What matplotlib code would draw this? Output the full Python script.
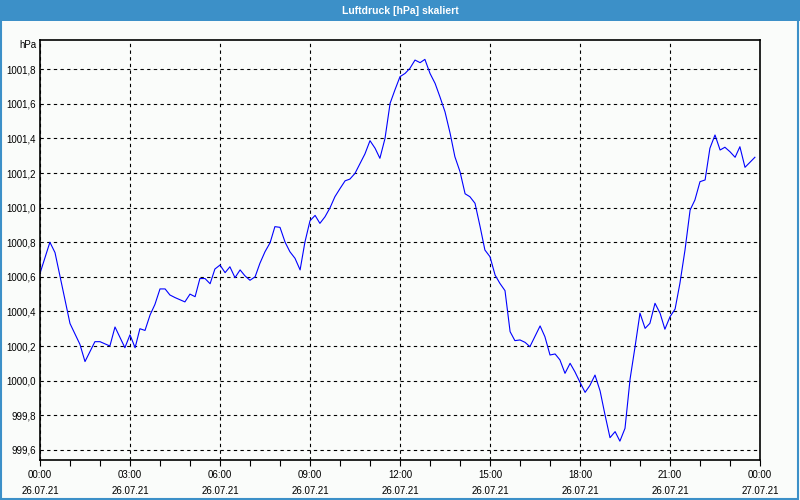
import matplotlib
matplotlib.use("Agg")
import matplotlib.pyplot as plt
from matplotlib.patches import Rectangle
from matplotlib.ticker import MultipleLocator, FuncFormatter

# Luftdruck-Verlauf, Stunden seit 26.07.21 00:00
stunden = [0.0, 0.33, 0.5, 0.67, 1.0, 1.33, 1.5, 1.83, 2.0, 2.33, 2.5, 2.83, 3.0,
           3.17, 3.33, 3.5, 3.67, 3.83, 4.0, 4.17, 4.33, 4.5, 4.83, 5.0, 5.17,
           5.33, 5.5, 5.67, 5.83, 6.0, 6.17, 6.33, 6.5, 6.67, 6.83, 7.0, 7.17,
           7.33, 7.5, 7.67, 7.83, 8.0, 8.17, 8.33, 8.5, 8.67, 8.83, 9.0, 9.17,
           9.33, 9.5, 9.67, 9.83, 10.0, 10.17, 10.33, 10.5, 10.67, 10.83, 11.0,
           11.17, 11.33, 11.5, 11.67, 11.83, 12.0, 12.17, 12.33, 12.5, 12.67,
           12.83, 13.0, 13.17, 13.33, 13.5, 13.67, 13.83, 14.0, 14.17, 14.33,
           14.5, 14.67, 14.83, 15.0, 15.17, 15.33, 15.5, 15.67, 15.83, 16.0,
           16.17, 16.33, 16.67, 16.83, 17.0, 17.17, 17.33, 17.5, 17.67, 17.83,
           18.0, 18.17, 18.33, 18.5, 18.67, 18.83, 19.0, 19.17, 19.33, 19.5,
           19.67, 19.83, 20.0, 20.17, 20.33, 20.5, 20.67, 20.83, 21.0, 21.17,
           21.33, 21.5, 21.67, 21.83, 22.0, 22.17, 22.33, 22.5, 22.67, 22.83,
           23.0, 23.17, 23.33, 23.5, 23.83]
druck = [1000.62, 1000.80, 1000.74, 1000.60, 1000.33, 1000.21, 1000.11, 1000.225,
         1000.225, 1000.20, 1000.31, 1000.19, 1000.265, 1000.19, 1000.30, 1000.29,
         1000.38, 1000.44, 1000.53, 1000.53, 1000.495, 1000.48, 1000.455, 1000.50,
         1000.485, 1000.59, 1000.59, 1000.56, 1000.645, 1000.668, 1000.624, 1000.658,
         1000.595, 1000.64, 1000.606, 1000.58, 1000.60, 1000.678, 1000.745, 1000.797,
         1000.89, 1000.886, 1000.80, 1000.745, 1000.707, 1000.64, 1000.80, 1000.924,
         1000.955, 1000.909, 1000.947, 1001.00, 1001.063, 1001.11, 1001.155, 1001.165,
         1001.198, 1001.256, 1001.31, 1001.387, 1001.343, 1001.285, 1001.40, 1001.603,
         1001.68, 1001.757, 1001.776, 1001.805, 1001.853, 1001.838, 1001.857, 1001.776,
         1001.718, 1001.641, 1001.554, 1001.43, 1001.294, 1001.208, 1001.08, 1001.063,
         1001.025, 1000.89, 1000.755, 1000.716, 1000.61, 1000.562, 1000.52, 1000.283,
         1000.231, 1000.235, 1000.221, 1000.196, 1000.316, 1000.254, 1000.148, 1000.154,
         1000.12, 1000.042, 1000.10, 1000.051, 999.99, 999.932, 999.972, 1000.032,
         999.94, 999.805, 999.67, 999.705, 999.65, 999.724, 1000.01, 1000.19,
         1000.39, 1000.302, 1000.331, 1000.447, 1000.389, 1000.297, 1000.369, 1000.414,
         1000.562, 1000.755, 1000.986, 1001.044, 1001.15, 1001.16, 1001.343, 1001.42,
         1001.333, 1001.349, 1001.323, 1001.291, 1001.352, 1001.233, 1001.291]

x_labels = ["00:00\n26.07.21", "03:00\n26.07.21", "06:00\n26.07.21", "09:00\n26.07.21",
            "12:00\n26.07.21", "15:00\n26.07.21", "18:00\n26.07.21", "21:00\n26.07.21",
            "00:00\n27.07.21"]

blau = "#3c90c8"
hg = "#fafcfa"

plt.rcParams["font.family"] = ["Liberation Sans", "DejaVu Sans"]

fig = plt.figure(figsize=(8, 5), dpi=100, facecolor=hg)
ax = fig.add_axes([0.05, 0.08, 0.90, 0.84], facecolor=hg)

ax.plot(stunden, druck, color="#0000ff", linewidth=0.8)

ax.set_xlim(0, 24)
ax.set_ylim(999.541, 1001.969)

ax.set_xticks(range(0, 25, 3))
ax.set_xticklabels(x_labels, fontsize=7, linespacing=1.75)
ax.xaxis.set_minor_locator(MultipleLocator(1))
ax.tick_params(axis="x", which="both", direction="out", length=4, width=0.8, pad=3)

ax.yaxis.set_major_locator(MultipleLocator(0.2))
ax.yaxis.set_major_formatter(FuncFormatter(lambda v, p: f"{v:.1f}".replace(".", ",")))
ax.tick_params(axis="y", length=0, pad=3, labelsize=7)

ax.grid(True, which="major", color="black", linestyle=(0, (3, 3)), linewidth=0.8)
for s in ax.spines.values():
    s.set_linewidth(1.2)
    s.set_color("black")

fig.text(37 / 800, 1 - 45 / 500, "hPa", ha="right", va="center", fontsize=7)

# Titelleiste und Fensterrahmen
fig.patches.append(Rectangle((0, 1 - 21 / 500), 1, 21 / 500, transform=fig.transFigure,
                             facecolor=blau, edgecolor="none", zorder=0))
fig.patches.append(Rectangle((0.001, 0.002), 0.997, 0.996, transform=fig.transFigure,
                             facecolor="none", edgecolor=blau, linewidth=1.5, zorder=1))
fig.text(0.5, 1 - 10.5 / 500, "Luftdruck [hPa] skaliert", ha="center", va="center",
         color="white", fontsize=7.5, fontweight="bold")

plt.savefig("out.png", dpi=100, facecolor=hg)
